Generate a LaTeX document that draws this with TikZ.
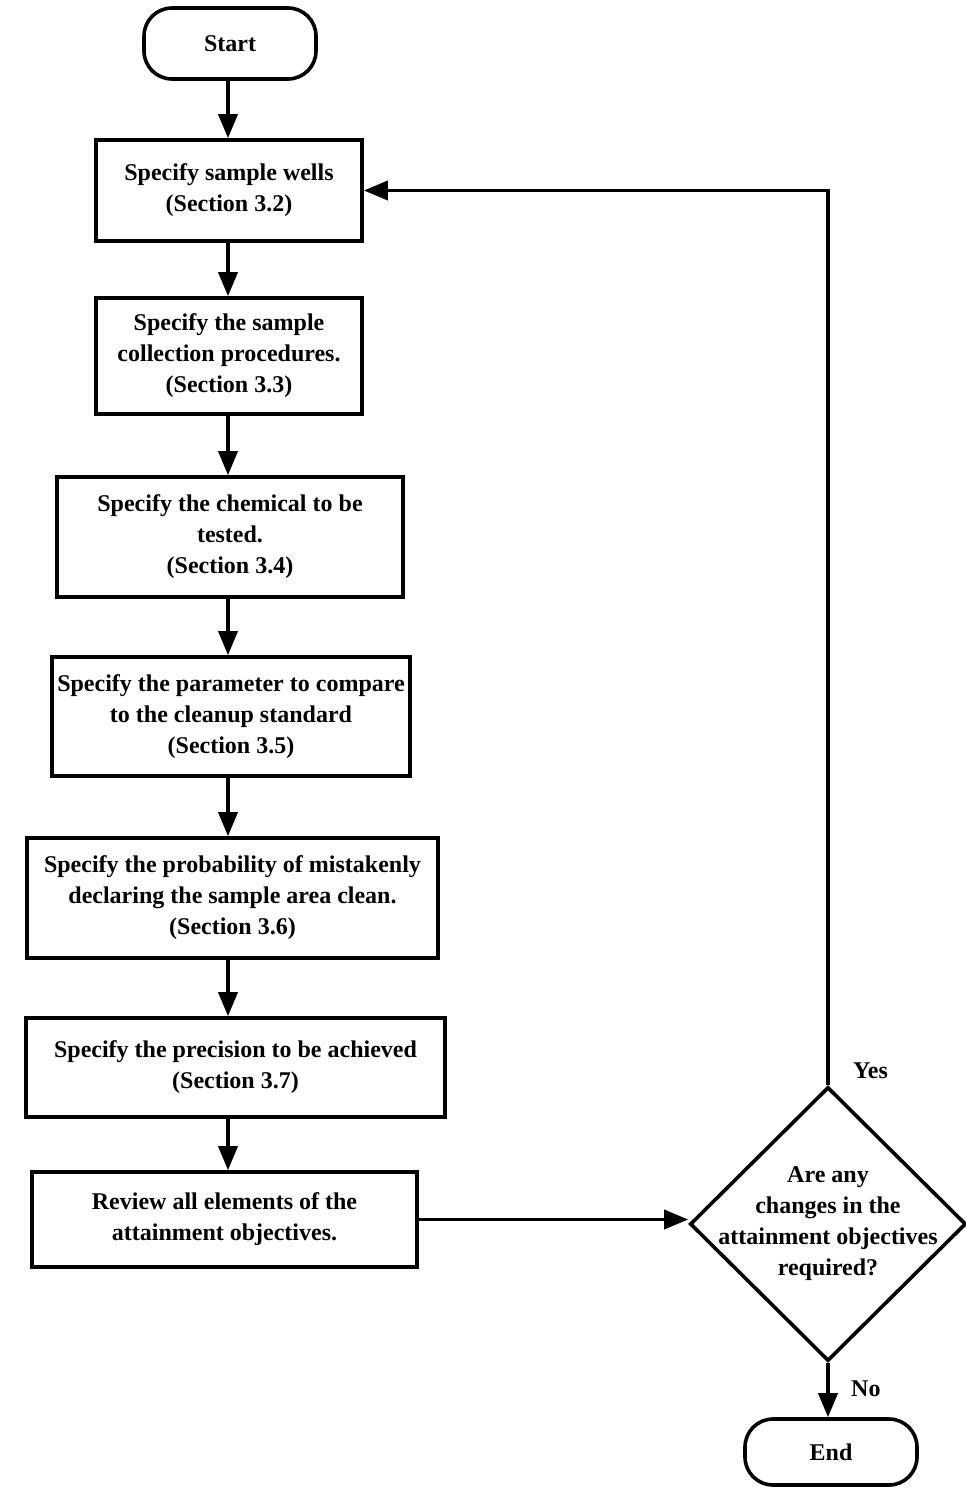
\documentclass[tikz,border=0pt]{standalone}
\usepackage{fontspec}
\setmainfont{Liberation Serif}
\usetikzlibrary{shapes.geometric,arrows.meta}
\begin{document}
\begin{tikzpicture}[x=1pt,y=-1pt,
  every node/.style={font=\bfseries\fontsize{24}{31}\selectfont},
  proc/.style={draw,line width=3.6pt,rectangle,align=center,inner sep=0pt},
  term/.style={draw,line width=3.6pt,rectangle,rounded corners=28pt,inner sep=0pt},
  dec/.style={draw,line width=3.6pt,shape=diamond,inner sep=0pt,minimum width=276pt,minimum height=274pt},
  lbl/.style={align=center,inner sep=0pt},
  flow/.style={line width=3.6pt,-{Triangle[length=24pt,width=19pt]}}]
\useasboundingbox (0,0) rectangle (966,1491);
\coordinate (spine) at (228,0);
\node[term,minimum width=172pt,minimum height=71pt] (start) at (230,43.5) {Start};
\node[proc,minimum width=266pt,minimum height=101pt] (b1) at (229,190.5) {Specify sample wells\\(Section 3.2)};
\node[proc,minimum width=266pt,minimum height=116pt] (b2) at (229,356) {Specify the sample\\collection procedures.\\(Section 3.3)};
\node[proc,minimum width=346pt,minimum height=120pt] (b3) at (230,537) {Specify the chemical to be\\tested.\\(Section 3.4)};
\node[proc,minimum width=358pt,minimum height=119pt] (b4) at (231,716.5) {Specify the parameter to compare\\to the cleanup standard\\(Section 3.5)};
\node[proc,minimum width=411pt,minimum height=120pt] (b5) at (232.5,898) {Specify the probability of mistakenly\\declaring the sample area clean.\\(Section 3.6)};
\node[proc,minimum width=419pt,minimum height=99pt] (b6) at (235.5,1067.5) {Specify the precision to be achieved\\(Section 3.7)};
\node[proc,minimum width=385pt,minimum height=95pt] (b7) at (224.5,1219.5) {Review all elements of the\\attainment objectives.};
\node[dec] (dia) at (828,1224) {};
\node[lbl] (diatxt) at (dia.center) {Are any\\changes in the\\attainment objectives\\required?};
\node[term,minimum width=172pt,minimum height=66pt] (end) at (831,1452) {End};
\node[lbl,anchor=west] (yes) at (853,1071) {Yes};
\node[lbl,anchor=west] (no) at (851,1389) {No};
\draw[flow] (start.south -| spine) -- (b1.north -| spine);
\draw[flow] (b1.south -| spine) -- (b2.north -| spine);
\draw[flow] (b2.south -| spine) -- (b3.north -| spine);
\draw[flow] (b3.south -| spine) -- (b4.north -| spine);
\draw[flow] (b4.south -| spine) -- (b5.north -| spine);
\draw[flow] (b5.south -| spine) -- (b6.north -| spine);
\draw[flow] (b6.south -| spine) -- (b7.north -| spine);
\draw[flow] (b7.east) -- (b7.east -| dia.west);
\draw[flow] (dia.north) |- (b1.east);
\draw[flow] (dia.south) -- (dia.south |- end.north);
\end{tikzpicture}
\end{document}
